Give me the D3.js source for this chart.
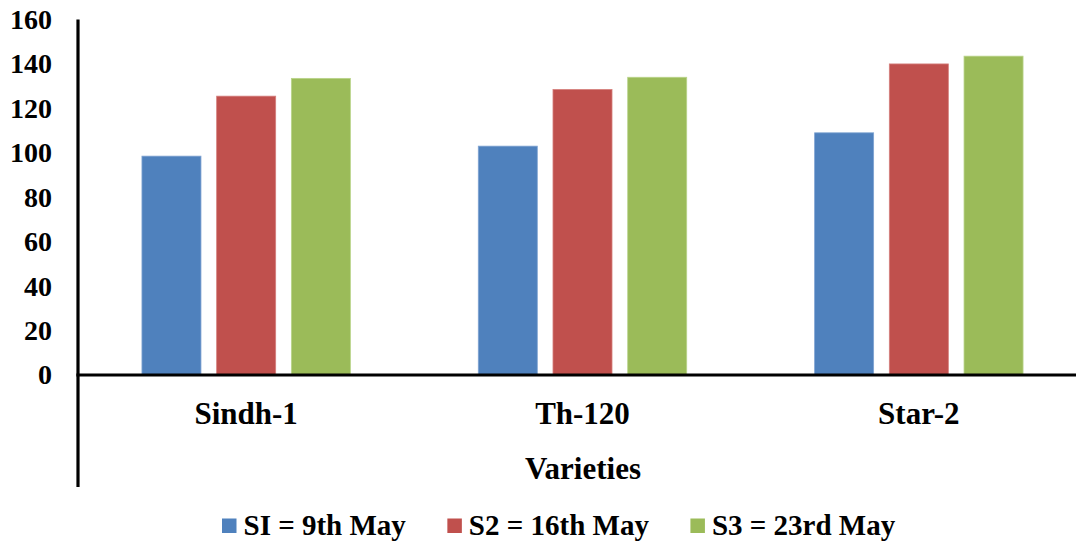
<!DOCTYPE html>
<html>
<head>
<meta charset="utf-8">
<script src="https://cdn.jsdelivr.net/npm/d3@7"></script>
</head>
<body style="margin:0;background:#fff">
<svg id="plot" width="1076" height="543" style="display:block"></svg>
<script>
// Plant height by variety and sowing date
const categories = ["Sindh-1", "Th-120", "Star-2"];
const seriesNames = ["SI = 9th May", "S2 = 16th May", "S3 = 23rd May"];
const s1Values = [98.5, 103, 109];
const s2Values = [125.5, 128.5, 140];
const s3Values = [133.5, 134, 143.5];
const yTicks = [0, 20, 40, 60, 80, 100, 120, 140, 160];
const colors = ["#4F81BD", "#C0504D", "#9BBB59"];
const strokes = ["#7FA3D2", "#D57F7C", "#B9D48A"];

const FONT = "Liberation Serif";

const seriesValues = [s1Values, s2Values, s3Values];
const rows = categories.map((c, i) => ({
  category: c,
  values: seriesNames.map((s, j) => ({ series: s, idx: j, value: seriesValues[j][i] }))
}));

const svg = d3.select("#plot");

function styleText(sel, size) {
  sel.attr("font-family", FONT)
    .attr("font-weight", "bold")
    .attr("font-size", size)
    .style("font-family", FONT, "important")
    .style("font-weight", "bold", "important")
    .style("font-size", size + "px", "important")
    .attr("fill", "#000");
}

const axisX = 78;
const y = d3.scaleLinear().domain([0, 160]).range([375, 19.5]);
const x0 = d3.scaleBand().domain(categories).range([axisX, 1087]).padding(0);
const x1 = d3.scaleBand().domain(seriesNames).range([0, x0.bandwidth()])
  .paddingInner(0.21).paddingOuter(0.856);

// Bars
const groups = svg.append("g").selectAll("g")
  .data(rows).join("g")
  .attr("transform", d => `translate(${x0(d.category)},0)`);

groups.selectAll("rect")
  .data(d => d.values).join("rect")
  .attr("x", d => x1(d.series))
  .attr("width", x1.bandwidth())
  .attr("y", d => y(d.value))
  .attr("height", d => y(0) - y(d.value))
  .attr("fill", d => colors[d.idx])
  .attr("stroke", d => strokes[d.idx])
  .attr("stroke-width", 0.8);

// Y axis labels
const yAxis = d3.axisLeft(y).tickValues(yTicks).tickSize(0).tickPadding(26);
const yg = svg.append("g").attr("transform", `translate(${axisX},0)`).call(yAxis);
yg.attr("font-family", FONT).attr("font-size", 28);
yg.select(".domain").remove();
styleText(yg.selectAll("text"), 28);

// Axis lines
svg.append("line")
  .attr("x1", axisX).attr("x2", axisX)
  .attr("y1", y(160)).attr("y2", 487)
  .attr("stroke", "#000").attr("stroke-width", 3.2);
svg.append("line")
  .attr("x1", axisX - 1.6).attr("x2", 1076)
  .attr("y1", y(0)).attr("y2", y(0))
  .attr("stroke", "#000").attr("stroke-width", 3.2);

// Category labels
const cats = svg.append("g").selectAll("text")
  .data(categories).join("text")
  .attr("x", d => x0(d) + x0.bandwidth() / 2)
  .attr("y", 424)
  .attr("text-anchor", "middle")
  .text(d => d);
styleText(cats, 31);

// Axis title
const title = svg.append("text")
  .attr("x", 583)
  .attr("y", 478.5)
  .attr("text-anchor", "middle")
  .text("Varieties");
styleText(title, 31);

// Legend
const legend = svg.append("g");
let lx = 222;
seriesNames.forEach((name, i) => {
  legend.append("rect")
    .attr("x", lx).attr("y", 518.5)
    .attr("width", 14.5).attr("height", 14.5)
    .attr("fill", colors[i]);
  const t = legend.append("text")
    .attr("x", lx + 21.5).attr("y", 535)
    .text(name);
  styleText(t, 29);
  lx += 21.5 + t.node().getComputedTextLength() + 41.5;
});
</script>
</body>
</html>
